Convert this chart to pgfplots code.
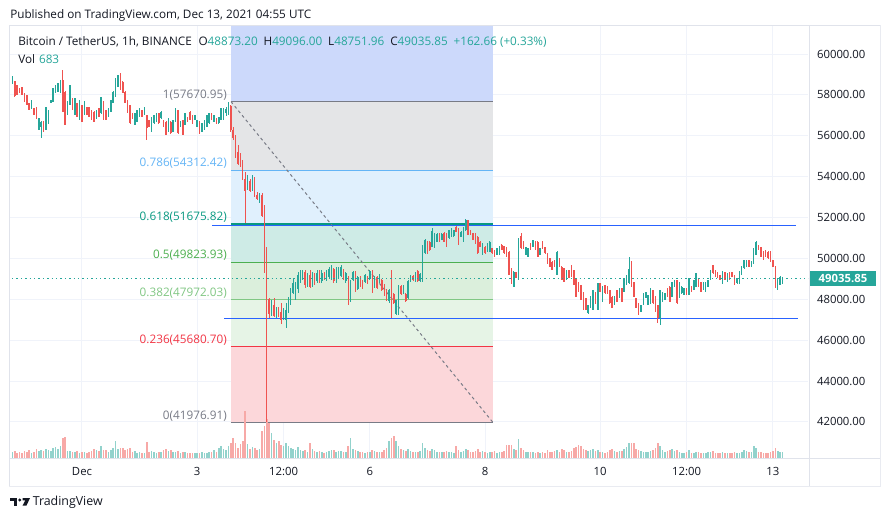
\documentclass[border=0pt]{standalone}
\usepackage{fontspec}
\setmainfont{Open Sans}
\usepackage{pgfplots}
\usepackage{pgfplotstable}
\pgfplotsset{compat=1.18}
\definecolor{tvup}{HTML}{26A69A}
\definecolor{tvdn}{HTML}{EF5350}
\definecolor{volup}{HTML}{92D2CC}
\definecolor{voldn}{HTML}{F7A9A7}
\definecolor{gridc}{HTML}{F0F3FA}
\definecolor{borderc}{HTML}{E0E3EB}
\definecolor{txt}{HTML}{131722}
\definecolor{fgray}{HTML}{787B86}
\definecolor{fblue}{HTML}{64B5F6}
\definecolor{fteal}{HTML}{089981}
\definecolor{fgreen}{HTML}{4CAF50}
\definecolor{flgreen}{HTML}{81C784}
\definecolor{fred}{HTML}{F23645}
\definecolor{bandtop}{HTML}{CCD9FB}
\definecolor{bandgray}{HTML}{E4E5E7}
\definecolor{bandblue}{HTML}{E0F0FD}
\definecolor{bandteal}{HTML}{CEEBE6}
\definecolor{bandgreen}{HTML}{DBEFDC}
\definecolor{bandlgreen}{HTML}{E6F4E6}
\definecolor{bandred}{HTML}{FCD7DA}
\definecolor{hblue}{HTML}{2962FF}

\pgfplotsset{
  tvaxis/.style={scale only axis, width=598.875pt, height=324.75pt,
    at={(7.125pt,-343.5pt)}, anchor=south west,
    xmin=-30.22, xmax=302.63},
  wick/.style={only marks, mark=*, mark size=0pt, mark options={draw opacity=0, fill opacity=0},
    error bars/.cd, y dir=both, y explicit, error mark=none,
    error bar style={line width=0.6pt, draw opacity=1}},
  body/.style={only marks, mark=*, mark size=0pt, mark options={draw opacity=0, fill opacity=0},
    error bars/.cd, y dir=both, y explicit, error mark=none,
    error bar style={line width=1.15pt, draw opacity=1}},
}

% up (teal) candles: hour, open, high, low, close, volume
\pgfplotstableread{
t o h l c v
-29 58560 58920 58550 58900 700
-21 57340 57760 57330 57750 560
-18 56280 56860 56270 56850 760
-17 56440 56700 55870 56690 900
-15 56280 57430 56270 57420 1000
-14 56610 57270 56600 57260 880
-13 57590 57760 57580 57750 760
-12 57670 58330 57660 58320 1100
-11 58080 58490 58070 58480 1200
-10 58160 58570 58150 58560 1000
-9 58080 58740 58070 58730 1300
-6 57010 57680 57000 57670 800
-5 57500 58490 57490 58480 780
-3 57010 57840 57000 57830 620
-1 56770 57760 56760 57750 600
1 57010 57680 57000 57670 700
6 56850 57270 56840 57260 880
8 57100 57920 57090 57910 1300
11 56930 57350 56920 57340 700
12 57180 57760 57170 57750 900
13 57590 58170 57580 58160 1100
14 57910 58820 57900 58810 1850
15 58400 58980 58390 58970 1000
22 56530 57110 56520 57100 760
23 56690 57270 56680 57260 600
24 56930 57350 56920 57340 640
26 57010 57430 57000 57420 600
29 56200 56940 56190 56930 760
30 56610 57020 56600 57010 620
31 56690 57110 56680 57100 560
33 56850 57190 56840 57180 700
36 56200 56860 56190 56850 760
38 56200 56780 56190 56770 620
39 56690 57350 56680 57340 700
41 56440 56700 56430 56690 560
43 56530 57110 56520 57100 620
47 56770 57020 56760 57010 560
48 56440 56780 56430 56770 600
50 56200 56620 56190 56610 620
51 56280 56780 56270 56770 560
52 56440 57020 56430 57010 600
53 56610 57110 56600 57100 660
55 56690 57020 56680 57010 900
57 56610 56940 56600 56930 1100
58 56770 57350 56760 57340 1300
59 56900 57360 56770 57300 1000
60 57100 57400 56950 57300 900
61 57200 57671 57000 57500 1300
69 53400 54080 53350 53900 1500
71 53300 54080 53300 53900 1200
74 52900 53200 52700 53150 1000
79 47300 47960 47200 47700 2700
81 47200 47600 47100 47500 1650
84 47000 47570 46980 47400 1300
85 47000 47820 46600 47500 1650
86 47400 48110 47330 47900 1300
87 47900 48550 47720 48400 1100
88 48300 49040 48250 48800 1000
89 48400 48850 47960 48700 900
90 48500 49330 48310 49200 1200
91 49000 49430 48800 49300 900
92 49100 49430 48940 49350 800
94 48700 49300 48600 49200 700
96 48700 49330 48600 49200 1000
98 48900 49430 48800 49300 700
100 48900 49430 48800 49300 640
102 49000 49430 48900 49350 700
103 49100 49580 49040 49500 760
104 49200 49680 48940 49550 880
106 48950 49580 48800 49400 700
107 49200 49600 49000 49500 760
108 49150 49680 49100 49600 820
110 48900 49350 48780 49300 640
112 48150 48950 47880 48900 2200
113 48950 49400 48900 49350 1000
115 48500 49150 48450 49100 760
118 48850 49250 48800 49200 600
120 49000 49450 48950 49400 620
122 48620 49150 48550 49100 760
124 48860 49250 48800 49180 640
128 47900 48500 47800 48450 1900
131 47300 47980 47230 47950 1900
132 47400 48700 47230 48650 1300
134 48300 48700 48250 48650 900
136 48050 48950 48000 48900 1000
137 48870 49190 48860 49150 760
139 48900 49350 48860 49300 700
141 48880 49270 48860 49250 800
142 48900 50660 48860 50600 1650
143 50250 50950 50200 50900 1100
146 50575 51470 50550 51350 1000
147 50500 51230 50490 51200 880
148 50820 51230 50800 51200 700
150 50900 51230 50880 51200 700
153 50980 51400 50950 51380 700
154 51060 51470 51050 51450 640
155 51100 51400 51060 51390 600
158 51060 51320 51050 51300 700
159 50820 51560 50800 51550 760
160 51400 51930 51350 51880 1000
167 50170 50760 50160 50740 760
169 50330 50760 50320 50740 600
170 50330 50840 50320 50820 660
173 50170 50500 50160 50490 600
174 50170 50600 50160 50575 640
180 48620 49360 48610 49350 1000
182 48950 51000 48940 50980 2100
185 50170 50580 50160 50570 700
186 50090 50500 50080 50490 640
188 50570 50920 50560 50900 620
191 50170 50500 50160 50490 560
198 49190 50340 49180 50330 900
202 48940 49440 48930 49430 640
211 47310 47730 47300 47720 760
212 47560 48140 47550 48130 880
213 47480 48460 47470 48450 1000
215 47480 48790 47470 48780 900
217 47880 48630 47870 48620 700
222 47720 48140 47710 48130 760
224 48050 48550 48040 48540 760
226 48370 49040 48360 49030 1000
227 48700 49200 48690 49190 1200
228 48780 50090 48770 49500 1600
233 47400 47730 47390 47720 760
234 47720 48300 47710 48290 700
235 48050 48380 48040 48370 640
236 47720 48220 47710 48210 700
237 47800 48550 47790 48540 760
241 47100 48460 46740 48450 1300
242 47880 48380 47870 48370 900
243 47960 48300 47950 48290 700
246 48130 48870 48120 48860 1000
247 48620 48950 48610 48940 760
249 48050 48870 48040 48860 700
250 48290 48630 48280 48620 560
251 48210 48550 48200 48540 600
253 48210 49040 48200 49030 900
255 48450 48950 48440 48940 560
256 48620 49280 48610 49270 700
259 48450 48870 48440 48860 560
260 48370 48870 48360 48860 600
261 48620 48950 48610 48940 640
262 48940 49440 48930 49430 700
267 48780 49360 48770 49350 640
269 48860 49280 48850 49270 600
273 48780 49040 48770 49030 560
274 48780 49360 48770 49350 600
275 49190 49610 49180 49600 700
276 49510 49930 49500 49920 900
277 49600 49930 49590 49920 760
279 49600 49850 49590 49840 700
280 49760 50500 49750 50490 1300
281 50170 50830 50160 50820 1100
290 48450 49040 48440 49030 800
291 48700 49120 48690 49110 640
292 48873.20 49096.00 48751.96 49035.85 683
}\upc

% down (red) candles
\pgfplotstableread{
t o h l c v
-28 58700 58700 57910 57950 820
-27 58480 58490 57990 58000 560
-26 58320 58330 58070 58080 640
-25 58400 58410 57990 58000 600
-24 58080 58090 57660 57670 780
-23 57990 58000 57490 57500 620
-22 57590 57600 57250 57260 880
-20 57340 57350 57000 57010 700
-19 57420 57430 56840 56850 940
-16 56690 56700 56190 56200 760
-8 58730 59217 57170 57180 2200
-7 58160 58170 56520 56530 2300
-4 57830 57840 57250 57260 700
-2 57590 57600 56920 56930 780
0 57500 57510 56680 56690 640
2 57420 57430 57000 57010 560
3 57420 57430 56920 56930 620
4 57260 57270 56760 56770 800
5 57180 57190 56680 56690 1000
7 57340 57350 56920 56930 760
9 57670 57680 56760 56770 900
10 57260 57270 56760 56770 840
16 59000 59080 58230 58240 1050
17 58650 58660 58070 58080 1100
18 58160 58170 57580 57590 900
19 57750 57760 57090 57100 1000
20 57500 57510 56600 56610 1100
21 57100 57110 56840 56850 700
25 57260 57270 56920 56930 560
27 57010 57020 55790 56400 1750
28 56770 56780 56430 56440 700
32 57100 57110 56600 56610 640
34 56770 56780 56430 56440 880
35 56690 56700 56030 56040 1000
37 56690 56700 56110 56120 880
40 57260 57270 56110 56120 820
42 56770 56780 56030 56040 700
44 56930 56940 56680 56690 520
45 57180 57190 56760 56770 560
46 57010 57020 56600 56610 500
49 56690 56700 56110 56120 560
54 57100 57110 56760 56770 620
56 56850 56860 56600 56610 700
62 57450 57500 56180 56300 1600
63 56300 56430 55790 55900 2200
64 55900 56040 54910 55000 1700
65 55200 55550 54570 54600 1100
66 54700 55160 54470 54500 1500
67 54600 54810 53830 53900 1900
68 53900 54230 51730 53300 5200
70 53800 53900 53250 53300 1000
72 53900 54000 53000 53100 1100
73 53100 53250 52860 52900 900
75 53100 53200 52030 52100 3000
76 52100 52600 49300 50500 3500
77 50500 50560 41977 48000 4300
78 48000 48060 47090 47300 3800
80 47700 48060 47150 47200 2000
82 47500 47620 47130 47200 1850
83 47400 47800 46800 47000 1450
93 49350 49430 48550 48700 900
95 49200 49430 48550 48600 1650
97 49200 49300 48700 48800 800
99 49300 49430 48800 48900 760
101 49300 49350 48950 49050 600
105 49500 49530 48800 48900 900
109 49430 49500 48940 49000 700
111 49100 49150 47720 48150 1300
114 49350 49400 48370 48500 900
116 49100 49150 48600 48650 700
117 48900 48950 48500 48550 640
119 49100 49150 48750 48800 700
121 49350 49430 48290 48600 900
123 49100 49150 48500 48540 700
125 48940 49000 48400 48450 700
126 48700 48750 48150 48210 900
127 48450 48500 47900 47960 1100
129 49300 49430 47070 47900 2200
130 48250 48300 47750 47800 2400
133 48650 48700 48200 48250 1000
135 48250 48290 47880 47900 800
138 49150 49190 48900 48950 640
140 49400 49430 48860 48900 620
144 50820 50850 50200 50250 900
145 50820 50850 50380 50410 760
149 51200 51230 50800 50820 640
151 51250 51310 50800 50820 620
152 51200 51230 50570 50600 760
156 51550 51600 51300 51310 1300
157 51470 51500 50650 50700 900
161 51880 51900 51140 51150 900
162 51390 51400 51140 51150 700
163 51230 51250 50880 50900 640
164 51230 51250 50720 50740 760
165 51060 51080 50240 50250 1000
166 50820 50850 50550 50575 700
168 50575 50600 50240 50250 640
171 50490 50520 50240 50250 700
172 50410 50420 50080 50085 760
175 50650 50700 50400 50420 700
176 50600 50620 50230 50250 760
177 50500 50580 50080 50090 1450
178 50330 50340 49180 49200 1400
179 49500 49520 48770 48780 1450
181 49350 49360 49020 49030 900
183 51100 51227 50480 50490 1100
184 50820 50830 50480 50490 900
187 50740 50750 50400 50410 700
189 50820 50830 50400 50410 600
190 50820 50830 50080 50090 660
192 50820 50830 50480 50490 640
193 50570 50580 50240 50250 600
194 50250 50260 49750 49760 880
195 50000 50010 49590 49600 700
196 49840 49850 49420 49430 640
197 49920 49930 49590 49600 760
199 50000 50010 49590 49600 700
200 49600 49610 48930 48940 1000
201 49510 49520 48850 48860 900
203 49430 49440 49020 49030 700
204 49680 49690 49100 49110 760
205 49430 49440 48690 48700 1100
206 49030 49040 48120 48130 1200
207 48860 48870 48360 48370 1450
208 48700 48710 47960 47970 1300
209 48370 48380 47470 47480 1000
210 48050 48060 47470 47480 900
214 48370 48380 47790 47800 760
216 48780 48790 48360 48370 640
218 48700 48710 48280 48290 600
219 48620 48630 48280 48290 640
220 48450 48460 47790 47800 900
221 48130 48140 47550 47560 1000
223 48450 48460 47870 47880 700
225 48540 48550 47870 47880 800
229 49840 49850 48610 48620 1600
230 48860 48870 48120 48130 1700
231 48050 48060 47550 47560 1000
232 47800 47810 47230 47400 900
238 48450 48460 47790 47800 880
239 48130 48140 47380 47390 1100
240 47720 47730 46820 47100 1650
244 48540 48550 48120 48130 760
245 48620 48630 47870 47880 900
248 48940 48950 47790 47800 900
252 48540 48550 48200 48210 640
254 48620 48630 48360 48370 600
257 49030 49040 48610 48620 640
258 48860 48870 48360 48370 600
263 49680 49690 49260 49270 760
264 49430 49440 49100 49110 600
265 49350 49360 49020 49030 560
266 49190 49200 48930 48940 600
268 49350 49360 48930 48940 560
270 49350 49360 48930 48940 560
271 49350 49360 49100 49110 600
272 49190 49200 48690 48700 640
278 49920 49930 49590 49600 640
282 50660 50670 50400 50410 700
283 50570 50580 50080 50090 640
284 50330 50340 49910 49920 600
285 50410 50420 50080 50090 560
286 50330 50340 49990 50000 560
287 50330 50340 49830 49840 640
288 49920 49930 49590 49600 760
289 49600 49610 48530 48540 1100
}\dnc

\begin{document}
\begin{tikzpicture}
\fill[white] (0pt,0pt) rectangle (667.5pt,-390.75pt);

% ---------- main axis: grid, fib, lines ----------
\begin{axis}[tvaxis,
  ymin=40236, ymax=61419,
  scaled x ticks=false, scaled y ticks=false,
  axis line style={draw=none},
  tick style={draw=none}, major tick length=0pt,
  grid=major, major grid style={draw=gridc, line width=0.75pt},
  xtick={0,48,84,120,168,216,252,288},
  xticklabels={Dec,3,12:00,6,8,10,12:00,13},
  ytick={42000,44000,46000,48000,50000,52000,54000,56000,58000,60000},
  yticklabels={42000.00,44000.00,46000.00,48000.00,50000.00,52000.00,54000.00,56000.00,58000.00,60000.00},
  yticklabel pos=right,
  /pgf/number format/assume math mode=true,
  ticklabel style={font=\fontsize{8.5}{10}\selectfont, text=txt},
  xticklabel style={anchor=base, yshift=-13.4pt},
  yticklabel style={anchor=west, inner sep=0pt, xshift=6.6pt},
]
\addplot[fill=bandtop, draw=none] coordinates {(62.1,57670.95) (171.3,57670.95) (171.3,62000) (62.1,62000)} -- cycle;
\addplot[fill=bandgray, draw=none] coordinates {(62.1,54312.42) (171.3,54312.42) (171.3,57670.95) (62.1,57670.95)} -- cycle;
\addplot[fill=bandblue, draw=none] coordinates {(62.1,51675.82) (171.3,51675.82) (171.3,54312.42) (62.1,54312.42)} -- cycle;
\addplot[fill=bandteal, draw=none] coordinates {(62.1,49823.93) (171.3,49823.93) (171.3,51675.82) (62.1,51675.82)} -- cycle;
\addplot[fill=bandgreen, draw=none] coordinates {(62.1,47972.03) (171.3,47972.03) (171.3,49823.93) (62.1,49823.93)} -- cycle;
\addplot[fill=bandlgreen, draw=none] coordinates {(62.1,45680.70) (171.3,45680.70) (171.3,47972.03) (62.1,47972.03)} -- cycle;
\addplot[fill=bandred, draw=none] coordinates {(62.1,41976.91) (171.3,41976.91) (171.3,45680.70) (62.1,45680.70)} -- cycle;
\addplot[fgray, line width=0.75pt] coordinates {(62.1,57670.95) (171.3,57670.95)};
\addplot[fblue, line width=0.75pt] coordinates {(62.1,54312.42) (171.3,54312.42)};
\addplot[fteal, line width=1.2pt] coordinates {(62.1,51675.82) (171.3,51675.82)};
\addplot[fgreen, line width=0.75pt] coordinates {(62.1,49823.93) (171.3,49823.93)};
\addplot[flgreen, line width=0.75pt] coordinates {(62.1,47972.03) (171.3,47972.03)};
\addplot[fred, line width=0.75pt] coordinates {(62.1,45680.70) (171.3,45680.70)};
\addplot[fgray, line width=0.75pt] coordinates {(62.1,41976.91) (171.3,41976.91)};
\addplot[fgray, line width=0.75pt, dash pattern=on 2.2pt off 2.2pt] coordinates {(62.1,57670.95) (171.3,41976.91)};
\addplot[hblue, line width=0.75pt] coordinates {(54.2,51630) (297.5,51630)};
\addplot[hblue, line width=0.75pt] coordinates {(59.2,47080) (298.3,47080)};
\end{axis}

% ---------- volume ----------
\begin{axis}[tvaxis, ymin=0, ymax=47630, hide axis]
\addplot[ycomb, draw=volup, line width=1.2pt] table[x=t, y=v] {\upc};
\addplot[ycomb, draw=voldn, line width=1.2pt] table[x=t, y=v] {\dnc};
\end{axis}

% ---------- candles ----------
\begin{axis}[tvaxis, ymin=40236, ymax=61419, hide axis]
\addplot[tvup, wick] table[x=t, y expr={(\thisrow{h}+\thisrow{l})/2}, y error expr={(\thisrow{h}-\thisrow{l})/2}] {\upc};
\addplot[tvdn, wick] table[x=t, y expr={(\thisrow{h}+\thisrow{l})/2}, y error expr={(\thisrow{h}-\thisrow{l})/2}] {\dnc};
\addplot[tvup, body] table[x=t, y expr={(\thisrow{o}+\thisrow{c})/2}, y error expr={max(abs(\thisrow{c}-\thisrow{o})/2,25)}] {\upc};
\addplot[tvdn, body] table[x=t, y expr={(\thisrow{o}+\thisrow{c})/2}, y error expr={max(abs(\thisrow{c}-\thisrow{o})/2,25)}] {\dnc};
\addplot[tvup, line width=0.9pt, dash pattern=on 1.1pt off 2.2pt] coordinates {(-31,49035.85) (303,49035.85)};
\end{axis}

% ---------- annotations in pixel space ----------
\begin{scope}[x=0.75pt, y=-0.75pt]
\draw[borderc, line width=0.75pt] (9.3,25) rectangle (880,486);
\draw[borderc, line width=0.75pt] (809,25) -- (809,486);
\draw[borderc, line width=0.75pt] (9.3,458) -- (880,458);
\draw[borderc!70, line width=1.2pt] (9.3,486.5) -- (880.5,486.5) -- (880.5,25);
\fill[tvup] (810,271) rectangle (876,286);
\node[text=white, font=\fontsize{8.5}{10}\selectfont\bfseries] at (843,278.4) {49035.85};
\begin{scope}[every node/.style={anchor=east, inner sep=0pt, font=\fontsize{8.8}{10}\selectfont}]
\node[text=fgray] at (227,95) {1(57670.95)};
\node[text=fblue] at (227,163.6) {0.786(54312.42)};
\node[text=fteal] at (227,217.4) {0.618(51675.82)};
\node[text=fgreen] at (227,255.5) {0.5(49823.93)};
\node[text=flgreen] at (227,293.3) {0.382(47972.03)};
\node[text=fred] at (227,340) {0.236(45680.70)};
\node[text=fgray] at (227,416) {0(41976.91)};
\end{scope}
\node[anchor=west, inner sep=0pt, text=txt, font=\fontsize{8.8}{10}\selectfont] at (10,15) {Published on TradingView.com, Dec 13, 2021 04:55 UTC};
\node[anchor=west, inner sep=0pt, text=txt, font=\fontsize{8.8}{10}\selectfont] at (18,42.3) {Bitcoin / TetherUS, 1h, BINANCE\hspace{5pt}O\textcolor{tvup}{48873.20}\hspace{4.4pt}H\textcolor{tvup}{49096.00}\hspace{4.4pt}L\textcolor{tvup}{48751.96}\hspace{4.4pt}C\textcolor{tvup}{49035.85}\hspace{4.4pt}\textcolor{tvup}{+162.66 (+0.33\%)}};
\node[anchor=west, inner sep=0pt, text=txt, font=\fontsize{8.8}{10}\selectfont] at (18,59.3) {Vol\hspace{3pt}\textcolor{tvup}{683}};
\fill[txt] (10,498) rectangle (17.3,501.2);
\fill[txt] (14.2,498) rectangle (17.3,505.5);
\fill[txt] (19.8,500) circle (1.6);
\fill[txt] (22.5,498) -- (30,498) -- (26.5,505.5) -- (22.6,505.5) -- (25.3,500.4) -- (22.5,500.4) -- cycle;
\node[anchor=west, inner sep=0pt, text=txt, font=\fontsize{9.3}{10}\selectfont] at (32.5,502.5) {TradingView};
\end{scope}

\pgfresetboundingbox
\path[use as bounding box] (0pt,0pt) rectangle (667.5pt,-390.75pt);
\end{tikzpicture}
\end{document}
